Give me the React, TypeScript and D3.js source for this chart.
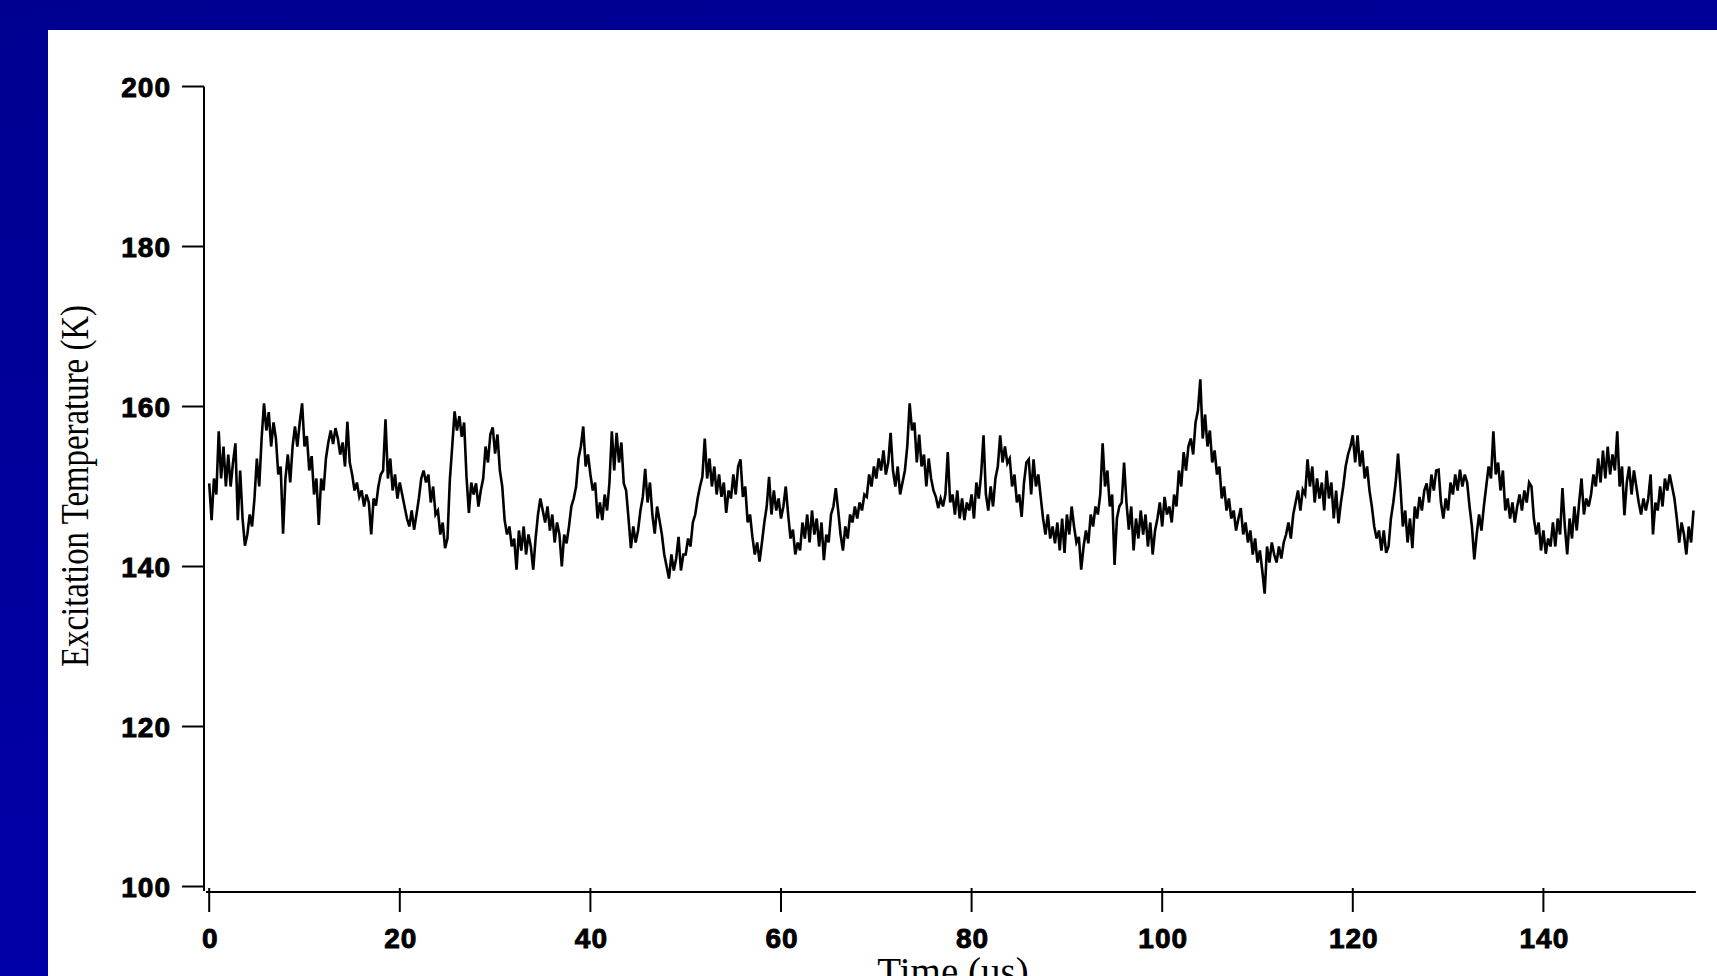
import React from "react";
import * as d3 from "d3";

// ---- data ----
const TIME_START_US = 0;
const TIME_STEP_US = 0.25;
// Excitation temperature (K), one value every 0.25 µs from t = 0
const temperatureK: number[] = [
  150.4, 145.8, 151, 149, 156.9, 151, 155, 150, 154, 150, 153, 155.4, 145.8, 152, 146, 142.6,
  144, 146.5, 145, 148.5, 153.5, 150, 156, 160.4, 157, 159.3, 155, 158, 156, 151.5, 152.5, 144.1,
  151, 154, 150.5, 155, 157.5, 155, 158, 160.4, 155, 156.3, 152, 153.8, 149, 151, 145.2, 151,
  149.5, 153.5, 155.5, 157, 155.3, 157.3, 156, 154, 155.5, 152.5, 158.1, 153, 151.5, 149.5, 150.5, 148.7,
  149.5, 147.5, 149, 148, 144, 148.5, 147.6, 150, 151.5, 152, 158.4, 151, 153.5, 149.5, 151.5, 148.5,
  150.5, 149, 147.5, 146, 145, 147, 144.6, 146.5, 148.5, 151, 152, 150.5, 151.5, 148, 150, 146.5,
  147, 144, 145.5, 142.3, 143.5, 150.8, 155, 159.4, 157, 158.8, 156.2, 158, 151.2, 146.7, 150.5, 149,
  150.4, 147.5, 149.5, 151, 155, 153, 156.5, 157.4, 154.1, 156.5, 152, 150, 145.8, 144, 145, 142.5,
  143.5, 139.6, 144.5, 142, 145, 141.5, 144, 142.5, 139.6, 143.5, 146.5, 148.5, 147, 145.5, 147.5, 144.5,
  146.5, 143, 145.5, 144, 140, 144, 142.9, 145, 147.5, 148.5, 150, 153.5,
  155, 157.5, 152.5, 154, 151.5, 149.5, 150.5, 146, 148, 145.8, 149, 147, 150.5, 156.9, 152, 156.7,
  153, 155.5, 150.4, 149.5, 146, 142.3, 145, 143, 144.5, 147, 148.7, 152.2, 148, 150.5, 146.5, 144.1,
  147.5, 145.8, 144, 141.5, 140, 138.5, 141.5, 139.5, 141, 143.7, 139.5, 141.5, 141.5, 143.5, 142.5, 145.5,
  146.5, 148.5, 150, 151.2, 156, 151, 153.5, 150, 152.5, 149, 151.5, 148.7, 150.5, 146.7, 149.5, 148.5,
  151.5, 149, 152.5, 153.4, 148.7, 150, 145.5, 146.5, 143.7, 141.5, 143, 140.6, 143, 145.5, 147.5, 151.2,
  146.5, 149.5, 147, 148.5, 146, 147.5, 150, 146.5, 143.5, 144.6, 141.5, 143, 142, 145.5, 143.5, 146.5,
  143, 147, 144, 146, 142.5, 145.5, 140.8, 144, 143, 146.5, 147.5, 149.8, 147, 144, 142, 145,
  143.5, 146.5, 145.5, 147.5, 146, 148, 147, 149, 148.7, 151.5, 150, 152.5, 151, 153.5, 152, 154.5,
  151.5, 153, 156.7, 152, 150, 152.5, 149, 150.5, 152, 155, 160.4, 157, 158, 153, 156.5, 152.5,
  154, 150, 153.5, 151, 149.5, 148.7, 147.3, 148.5, 147.5, 149, 154.3, 148,
  149, 146.5, 149.5, 146, 148.5, 145.8, 148, 147, 149, 146, 150.5, 148.5, 151.5, 156.4, 149, 147,
  150, 147.5, 151, 152.5, 156.4, 153, 155, 152.9, 153.5, 150, 151.5, 148, 149, 146.2, 150.5, 153,
  153.4, 149, 153.4, 150, 151.5, 148.7, 146, 144, 146.5, 143.5, 145, 142.9, 145.5, 142, 146, 141.7,
  146.5, 144, 147.5, 145, 143, 143.7, 139.6, 142.5, 144.5, 142.9, 146.5, 145, 147.5, 146.5, 149, 155.4,
  150, 152, 147.5, 149, 140.2, 146, 147.5, 148, 153, 148, 144.6, 147.5, 142, 146, 143.5, 147,
  144, 146.5, 142.5, 145.5, 141.5, 144.5, 146, 148, 145, 148.7, 146.5, 147.5, 145.5, 149, 147.5, 152,
  150, 154.3, 152, 155, 156, 154, 158, 159.5, 163.4, 156, 159, 155, 157, 153, 154.5, 151.5,
  152.5, 148.5, 150, 147, 148.5, 146, 147, 144.5, 146, 147.3, 144, 145.5, 143, 144.5, 141.5, 143.5,
  140.5, 142, 139.5, 136.6, 142.5, 140.5, 143, 141.5, 140.5, 142.5, 141, 143, 144, 145.5, 143.5, 146.5,
  148, 149.5, 147, 149.6, 149, 153.4, 150, 152.5, 148, 151, 148.5, 150.5, 147, 152, 148.5, 150.5,
  146, 149.5, 145.4, 148, 150, 152.5, 154, 155, 156.4, 153, 156.4, 152.5, 154.5, 151, 152.5, 149.5,
  147.5, 145, 143.5, 144.5, 142, 144.5, 141.7, 142.5, 146, 148, 150.5, 154.1, 150, 145, 147, 143,
  146, 142.3, 147.5, 146, 148.7, 147, 149.5, 150.4, 148, 151.5, 149.5, 152, 152.1, 148, 146, 148.5,
  147, 150.5, 149, 151.5, 149.5, 152.1, 150, 151.5, 150.5, 147.5, 145, 140.9, 144, 146.5, 144.5, 147.5,
  150, 152.5, 151, 156.9, 151.5, 153, 149.5, 152, 147, 148.5, 146, 148, 145.5, 147.5, 149, 147,
  149.5, 148, 150.5, 150, 146, 144, 145.5, 142, 144.5, 141.6, 143.5, 142.5, 145.5, 142.5, 146, 144,
  149.8, 145, 141.5, 146, 143.5, 147.5, 144.5, 148, 151, 146.5, 148.5, 147.5, 149, 151.5, 150, 153.5,
  150.5, 154.5, 151, 155, 151.5, 154, 152, 156.9, 150, 152.5, 146.4, 150.5, 152.5, 149, 152, 150,
  148, 146.5, 148.5, 147, 148.5, 151.5, 144, 148, 147, 150, 147.5, 151, 149.5, 151.5, 150, 148.5,
  146, 143, 145.5, 144, 141.5, 145, 143, 147,
];

const xTickValues = [0, 20, 40, 60, 80, 100, 120, 140];
const yTickValues = [100, 120, 140, 160, 180, 200];
const xDomain: [number, number] = [0, 156];
const yDomain: [number, number] = [100, 200];
const xTitle = "Time (us)";
const yTitle = "Excitation Temperature (K)";

const W = 1717;
const H = 976;

export default function App() {
  const x = d3.scaleLinear().domain(xDomain).range([209.2, 209.2 + 156 * 9.53]);
  const y = d3.scaleLinear().domain(yDomain).range([886.5, 86.5]);

  const points = temperatureK.map((v, i) => [TIME_START_US + i * TIME_STEP_US, v] as [number, number]);
  const line = d3
    .line<[number, number]>()
    .x((d) => x(d[0]))
    .y((d) => y(d[1]));

  const yAxisX = 204;
  const xAxisY = 892;
  const tickFont = {
    fontFamily: "'Liberation Sans', Arial, sans-serif",
    fontWeight: 700,
    fontSize: 28,
    letterSpacing: 1,
  } as const;

  return (
    <div style={{ position: "fixed", left: 0, top: 0 }}>
      <svg width={W} height={H} style={{ display: "block" }}>
        <defs>
          <linearGradient id="frame" x1="0" y1="0" x2="0.3" y2="1">
            <stop offset="0" stopColor="#000090" />
            <stop offset="1" stopColor="#0000aa" />
          </linearGradient>
        </defs>
        <rect x={0} y={0} width={W} height={H} fill="url(#frame)" />
        <rect x={48} y={30} width={W - 48} height={H - 30} fill="#ffffff" />

        {/* y axis */}
        <line x1={yAxisX} x2={yAxisX} y1={y(200)} y2={xAxisY - 1} stroke="#000" strokeWidth={2} />
        {yTickValues.map((t) => (
          <g key={"yt" + t}>
            <line x1={182} x2={yAxisX} y1={y(t)} y2={y(t)} stroke="#000" strokeWidth={2} />
            <text
              x={171}
              y={y(t) + 10}
              textAnchor="end"
              style={tickFont}
              fill="#000"
              stroke="#000"
              strokeWidth={0.9}
            >
              {t}
            </text>
          </g>
        ))}

        {/* x axis */}
        <line x1={yAxisX + 2} x2={x(156)} y1={xAxisY} y2={xAxisY} stroke="#000" strokeWidth={2} />
        {xTickValues.map((t) => (
          <g key={"xt" + t}>
            <line x1={x(t)} x2={x(t)} y1={xAxisY - 4} y2={xAxisY + 20} stroke="#000" strokeWidth={2} />
            <text
              x={x(t) + 1}
              y={948}
              textAnchor="middle"
              style={tickFont}
              fill="#000"
              stroke="#000"
              strokeWidth={0.9}
            >
              {t}
            </text>
          </g>
        ))}

        {/* data */}
        <path d={line(points) ?? ""} fill="none" stroke="#000" strokeWidth={2.6} strokeLinejoin="miter" />

        {/* titles */}
        <text
          x={953}
          y={985}
          textAnchor="middle"
          fill="#000"
          style={{ fontFamily: "'Liberation Serif', 'Times New Roman', serif", fontSize: 39 }}
        >
          {xTitle}
        </text>
        <text
          transform="translate(88,486) rotate(-90)"
          textAnchor="middle"
          fill="#000"
          textLength={362}
          lengthAdjust="spacingAndGlyphs"
          style={{ fontFamily: "'Liberation Serif', 'Times New Roman', serif", fontSize: 40 }}
        >
          {yTitle}
        </text>
      </svg>
    </div>
  );
}
